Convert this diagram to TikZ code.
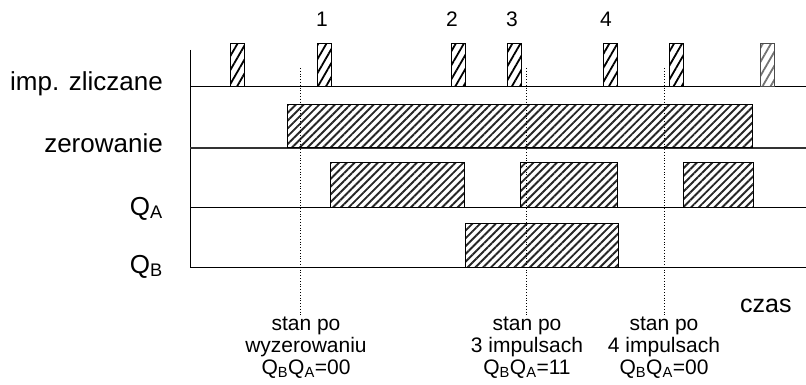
\documentclass[tikz,border=0pt]{standalone}
\usepackage{fontspec}
\setmainfont{Liberation Sans}
\usetikzlibrary{patterns.meta}
\begin{document}
\begin{tikzpicture}[x=1pt,y=-1pt,
  axisline/.style={line width=1pt, black},
  hatch/.style={draw=black, line width=1pt, pattern={Lines[angle=45,distance=5.5pt,line width=1.9pt]}, pattern color=black!85},
  pulse/.style={draw=black, line width=1pt, pattern={Lines[angle=60,distance=7pt,line width=1.8pt]}, pattern color=black},
  lbl/.style={font=\fontsize{26}{30}\selectfont, anchor=base east, inner sep=0},
  num/.style={font=\fontsize{21}{24}\selectfont, anchor=base, inner sep=0},
  note/.style={font=\fontsize{21}{22}\selectfont, align=center, inner sep=0, anchor=north},
  marker/.style={dotted, line width=0.8pt}
]
\useasboundingbox (0,0) rectangle (806,385);
% axes and rows
\draw[axisline] (190,50) -- (190,267);
\draw[axisline] (190,87) -- (806,87);
\draw[line width=1.5pt, black!80] (190,148) -- (806,148);
\draw[axisline] (190,207) -- (806,207);
\draw[axisline] (190,267) -- (806,267);
% pulses
\foreach \x in {230,317,451,507,603,669}
  \draw[pulse] (\x,44) rectangle ++(14,43);
\draw[pulse, pattern color=black!55, draw=black!70] (760,44) rectangle ++(14,43);
% zerowanie
\draw[hatch] (287,105) rectangle (752,148);
% QA
\draw[hatch] (330,163) rectangle (464,207);
\draw[hatch] (520,163) rectangle (617,207);
\draw[hatch] (683,163) rectangle (753,207);
% QB
\draw[hatch] (465,223) rectangle (618,267);
% labels
\node[lbl] (limp) at (163,91) {imp. zliczane};
\node[lbl] (lzer) at (163,153) {zerowanie};
\node[lbl] (lqa) at (163,215) {Q\textsubscript{A}};
\node[lbl] (lqb) at (163,273) {Q\textsubscript{B}};
% numbers
\node[num] (k1) at (322,27) {1};
\node[num] (k2) at (452,27) {2};
\node[num] (k3) at (512,27) {3};
\node[num] (k4) at (606,27) {4};
% notes
\node[note] (n1) at (306,317) {stan po\\wyzerowaniu\\Q\textsubscript{B}Q\textsubscript{A}=00};
\node[note] (n2) at (527,317) {stan po\\3 impulsach\\Q\textsubscript{B}Q\textsubscript{A}=11};
\node[note] (n3) at (664,317) {stan po\\4 impulsach\\Q\textsubscript{B}Q\textsubscript{A}=00};
\node[font=\fontsize{25}{28}\selectfont, anchor=base west, inner sep=0] (czas) at (740,312) {czas};
% markers
\coordinate (m1) at (300,68);
\coordinate (m2) at (526,68);
\coordinate (m3) at (664,68);
\draw[marker] (m1) -- (m1 |- n1.north);
\draw[marker] (m2) -- (m2 |- n2.north);
\draw[marker] (m3) -- (m3 |- n3.north);
\end{tikzpicture}
\end{document}
